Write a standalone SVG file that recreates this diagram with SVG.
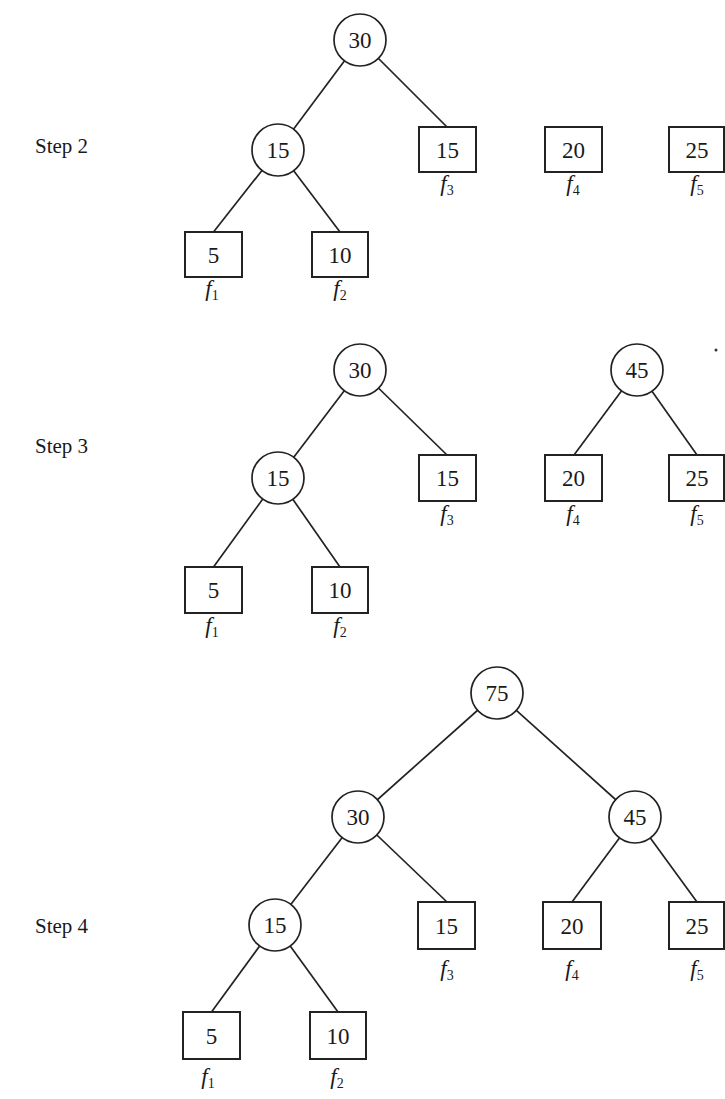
<svg xmlns="http://www.w3.org/2000/svg" width="725" height="1099" viewBox="0 0 725 1099">
  <style>
    .edge { stroke: #222; stroke-width: 1.7; fill: none; }
    .node circle { fill: #fff; stroke: #222; stroke-width: 1.7; }
    .node rect { fill: #fff; stroke: #222; stroke-width: 2; }
    .num { font-family: "Liberation Serif", serif; font-size: 23px; fill: #1a1a1a; text-anchor: middle; }
    .step { font-family: "Liberation Serif", serif; font-size: 21px; fill: #1a1a1a; }
    .lbl { font-family: "Liberation Serif", serif; font-size: 23px; font-style: italic; fill: #1a1a1a; text-anchor: middle; }
    .lbl tspan.sub { font-size: 14px; font-style: normal; }
  </style>
  <rect width="725" height="1099" fill="#fff"/>

  <!-- connectors -->
  <g id="connectors">
    <!-- step 2 -->
    <line class="edge" x1="360" y1="40" x2="278" y2="150"/>
    <line class="edge" x1="360" y1="40" x2="447" y2="127"/>
    <line class="edge" x1="278" y1="150" x2="213.5" y2="232"/>
    <line class="edge" x1="278" y1="150" x2="340" y2="232"/>
    <!-- step 3 -->
    <line class="edge" x1="360" y1="370" x2="278" y2="478"/>
    <line class="edge" x1="360" y1="370" x2="447" y2="455"/>
    <line class="edge" x1="278" y1="478" x2="213.5" y2="567"/>
    <line class="edge" x1="278" y1="478" x2="340" y2="567"/>
    <line class="edge" x1="637" y1="370" x2="574" y2="455"/>
    <line class="edge" x1="637" y1="370" x2="697" y2="455"/>
    <!-- step 4 -->
    <line class="edge" x1="497" y1="693" x2="358" y2="817"/>
    <line class="edge" x1="497" y1="693" x2="635" y2="817"/>
    <line class="edge" x1="358" y1="817" x2="275" y2="925"/>
    <line class="edge" x1="358" y1="817" x2="447" y2="902"/>
    <line class="edge" x1="635" y1="817" x2="572" y2="902"/>
    <line class="edge" x1="635" y1="817" x2="697" y2="902"/>
    <line class="edge" x1="275" y1="925" x2="211.5" y2="1012"/>
    <line class="edge" x1="275" y1="925" x2="338" y2="1012"/>
  </g>

  <!-- step labels -->
  <text class="step" x="35" y="153">Step 2</text>
  <text class="step" x="35" y="453">Step 3</text>
  <text class="step" x="35" y="933">Step 4</text>

  <!-- Step 2 -->
  <g id="s2-n30" class="node"><circle cx="360" cy="40" r="26"/><text class="num" x="360" y="48">30</text></g>
  <g id="s2-n15" class="node"><circle cx="278" cy="150" r="26"/><text class="num" x="278" y="158">15</text></g>
  <g id="s2-f3" class="node"><rect x="419" y="127" width="57" height="45"/><text class="num" x="447.5" y="157.5">15</text><text class="lbl" x="447" y="191">f<tspan class="sub" dy="4">3</tspan></text></g>
  <g id="s2-f4" class="node"><rect x="545" y="127" width="57" height="45"/><text class="num" x="573.5" y="157.5">20</text><text class="lbl" x="573" y="191">f<tspan class="sub" dy="4">4</tspan></text></g>
  <g id="s2-f5" class="node"><rect x="669" y="127" width="55" height="45"/><text class="num" x="697" y="157.5">25</text><text class="lbl" x="697" y="191">f<tspan class="sub" dy="4">5</tspan></text></g>
  <g id="s2-f1" class="node"><rect x="185" y="232" width="57" height="45"/><text class="num" x="213.5" y="262.5">5</text><text class="lbl" x="212" y="296">f<tspan class="sub" dy="4">1</tspan></text></g>
  <g id="s2-f2" class="node"><rect x="312" y="232" width="56" height="45"/><text class="num" x="340" y="262.5">10</text><text class="lbl" x="340" y="296">f<tspan class="sub" dy="4">2</tspan></text></g>

  <!-- Step 3 -->
  <g id="s3-n30" class="node"><circle cx="360" cy="370" r="26"/><text class="num" x="360" y="378">30</text></g>
  <g id="s3-n15" class="node"><circle cx="278" cy="478" r="26"/><text class="num" x="278" y="486">15</text></g>
  <g id="s3-f3" class="node"><rect x="419" y="455" width="57" height="46"/><text class="num" x="447.5" y="486">15</text><text class="lbl" x="447" y="521">f<tspan class="sub" dy="4">3</tspan></text></g>
  <g id="s3-n45" class="node"><circle cx="637" cy="370" r="26"/><text class="num" x="637" y="378">45</text></g>
  <g id="s3-f4" class="node"><rect x="545" y="455" width="57" height="46"/><text class="num" x="573.5" y="486">20</text><text class="lbl" x="573" y="521">f<tspan class="sub" dy="4">4</tspan></text></g>
  <g id="s3-f5" class="node"><rect x="669" y="455" width="55" height="46"/><text class="num" x="697" y="486">25</text><text class="lbl" x="697" y="521">f<tspan class="sub" dy="4">5</tspan></text></g>
  <g id="s3-f1" class="node"><rect x="185" y="567" width="57" height="46"/><text class="num" x="213.5" y="598">5</text><text class="lbl" x="212" y="633">f<tspan class="sub" dy="4">1</tspan></text></g>
  <g id="s3-f2" class="node"><rect x="312" y="567" width="56" height="46"/><text class="num" x="340" y="598">10</text><text class="lbl" x="340" y="633">f<tspan class="sub" dy="4">2</tspan></text></g>
  <circle cx="716" cy="350" r="1.5" fill="#333"/>

  <!-- Step 4 -->
  <g id="s4-n75" class="node"><circle cx="497" cy="693" r="26"/><text class="num" x="497" y="701">75</text></g>
  <g id="s4-n30" class="node"><circle cx="358" cy="817" r="26"/><text class="num" x="358" y="825">30</text></g>
  <g id="s4-n45" class="node"><circle cx="635" cy="817" r="26"/><text class="num" x="635" y="825">45</text></g>
  <g id="s4-n15" class="node"><circle cx="275" cy="925" r="26"/><text class="num" x="275" y="933">15</text></g>
  <g id="s4-f3" class="node"><rect x="418" y="902" width="57" height="47"/><text class="num" x="446.5" y="933.5">15</text><text class="lbl" x="447" y="976">f<tspan class="sub" dy="4">3</tspan></text></g>
  <g id="s4-f4" class="node"><rect x="543" y="902" width="58" height="47"/><text class="num" x="572" y="933.5">20</text><text class="lbl" x="572" y="976">f<tspan class="sub" dy="4">4</tspan></text></g>
  <g id="s4-f5" class="node"><rect x="669" y="902" width="55" height="47"/><text class="num" x="697" y="933.5">25</text><text class="lbl" x="697" y="976">f<tspan class="sub" dy="4">5</tspan></text></g>
  <g id="s4-f1" class="node"><rect x="183" y="1012" width="57" height="47"/><text class="num" x="211.5" y="1043.5">5</text><text class="lbl" x="208" y="1084">f<tspan class="sub" dy="4">1</tspan></text></g>
  <g id="s4-f2" class="node"><rect x="310" y="1012" width="56" height="47"/><text class="num" x="338" y="1043.5">10</text><text class="lbl" x="337" y="1084">f<tspan class="sub" dy="4">2</tspan></text></g>
</svg>
